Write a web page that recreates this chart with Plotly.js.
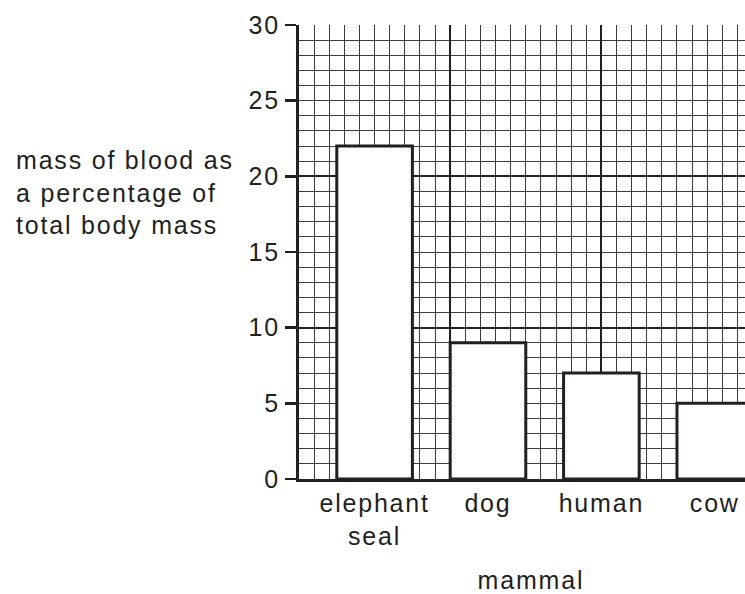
<!DOCTYPE html>
<html>
<head>
<meta charset="utf-8">
<script src="https://cdn.plot.ly/plotly-3.0.1.min.js"></script>
<style>
html,body{margin:0;padding:0;background:#fff;}
#chart{width:745px;height:594px;}
#chart text{letter-spacing:1.8px;}
</style>
</head>
<body>
<div id="chart"></div>
<script>
// ---- data ----
const categories = ['elephant<br>seal', 'dog', 'human', 'cow'];
const bloodPercent = [22, 9, 7, 5];
const yTickVals = [0, 5, 10, 15, 20, 25, 30];
const yTickText = ['0', '5', '10', '15', '20', '25', '30'];
const xTitle = 'mammal';
const yTitle = 'mass of blood as<br>a percentage of<br>total body mass';

const ink = '#231f20';
const FONT = 'Liberation Sans, Arial, Helvetica, sans-serif';
const FS = 25;

const traces = [
  {
    type: 'bar',
    x: categories,
    y: bloodPercent,
    width: 5 / 7.5,
    marker: {color: '#ffffff', line: {color: ink, width: 3}},
    hoverinfo: 'x+y',
    xaxis: 'x', yaxis: 'y'
  },
  { // carrier for the graph-paper grid axes
    type: 'scatter', x: [], y: [], xaxis: 'x2', yaxis: 'y2',
    showlegend: false, hoverinfo: 'skip'
  }
];

const gridThin = {color: '#3c3c3c', width: 1};
const gridThick = {color: ink, width: 2};

const layout = {
  width: 745, height: 594,
  margin: {l: 299, r: 0, t: 25, b: 115},
  paper_bgcolor: '#ffffff', plot_bgcolor: '#ffffff',
  showlegend: false,
  bargap: 0,
  font: {family: FONT, size: FS, color: ink},
  xaxis: {
    type: 'category',
    range: [-5 / 7.5, (29.5 - 5) / 7.5],
    showgrid: false, zeroline: false,
    showline: true, linecolor: ink, linewidth: 3,
    ticks: '', ticklen: 0,
    tickfont: {family: FONT, size: FS, color: ink},
    fixedrange: true
  },
  yaxis: {
    range: [0, 30],
    tickmode: 'array', tickvals: yTickVals, ticktext: yTickText,
    showgrid: false, zeroline: false,
    showline: true, linecolor: ink, linewidth: 3,
    ticks: 'outside', ticklen: 11, tickwidth: 2.5, tickcolor: ink,
    tickfont: {family: FONT, size: FS, color: ink},
    fixedrange: true
  },
  xaxis2: {
    overlaying: 'x', range: [0, 29.5],
    tickmode: 'linear', tick0: 0, dtick: 10,
    showgrid: true, gridcolor: gridThick.color, gridwidth: gridThick.width,
    minor: {dtick: 1, showgrid: true, gridcolor: gridThin.color, gridwidth: gridThin.width, ticks: ''},
    zeroline: false, showline: false, showticklabels: false, ticks: '',
    fixedrange: true
  },
  yaxis2: {
    overlaying: 'y', range: [0, 30],
    tickmode: 'linear', tick0: 0, dtick: 10,
    showgrid: true, gridcolor: gridThick.color, gridwidth: gridThick.width,
    minor: {dtick: 1, showgrid: true, gridcolor: gridThin.color, gridwidth: gridThin.width, ticks: ''},
    zeroline: false, showline: false, showticklabels: false, ticks: '',
    fixedrange: true
  },
  annotations: [
    {
      text: yTitle,
      xref: 'paper', yref: 'paper',
      x: -285 / 446, y: (479 - 192) / 454,
      xanchor: 'left', yanchor: 'middle',
      align: 'left', showarrow: false,
      font: {family: FONT, size: FS, color: ink}
    },
    {
      text: xTitle,
      xref: 'paper', yref: 'paper',
      x: (531 - 299) / 446, y: (479 - 580) / 454,
      xanchor: 'center', yanchor: 'middle',
      showarrow: false,
      font: {family: FONT, size: FS, color: ink}
    }
  ]
};

Plotly.newPlot('chart', traces, layout, {displayModeBar: false, staticPlot: true});
</script>
</body>
</html>
